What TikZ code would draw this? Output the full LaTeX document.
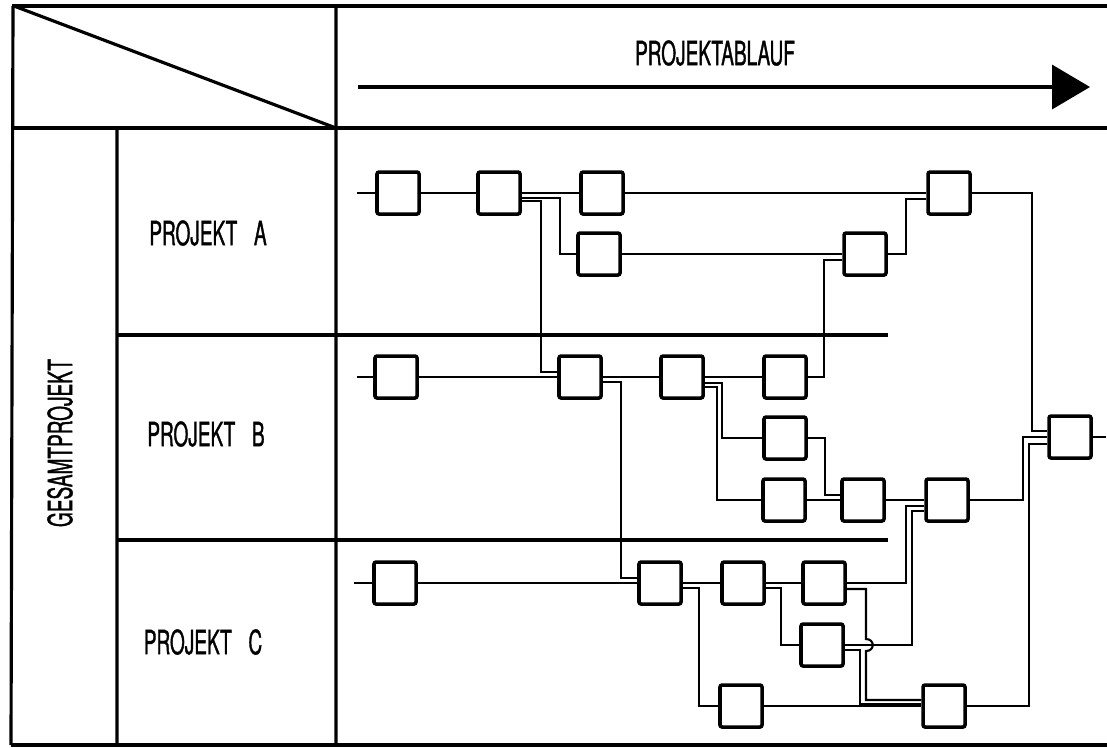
\documentclass[tikz,border=0pt]{standalone}
\usepackage{fontspec}
\newfontfamily\drawfont{TeX Gyre Heros}[FakeStretch=0.57,FakeBold=1]
\usetikzlibrary{arrows.meta}

\begin{document}
\begin{tikzpicture}[x=0.01cm,y=-0.01cm,
    act/.style={draw,line width=1pt,rounded corners=0.6pt,minimum size=0.42cm,inner sep=0pt},
    frame/.style={line width=0.9pt},
    sep/.style={line width=0.9pt},
    lnk/.style={line width=0.6pt},
    lab/.style={font=\drawfont\fontsize{9.5}{11}\selectfont,inner sep=0pt}]
  \useasboundingbox (0,0) rectangle (1107,747);
  % table frame
  \draw[frame] (12,6) -- (1107,6) (12,128) -- (1107,128) (11,745) -- (1107,745);
  \draw[frame] (13,6) -- (11,745) (117,128) -- (117,745) (336,6) -- (336,745);
  \draw[frame] (14,6) -- (336,128);
  \draw[sep] (117,335) -- (888,335) (117,540) -- (888,540);
  % header
  \node[lab] (head) at (715,53) {PROJEKTABLAUF};
  \draw[line width=1pt,-{Triangle[length=3.8mm,width=4.4mm]}] (358,87) coordinate (t0) -- (1090,87) coordinate (t1);
  \node[lab,rotate=90] (gp) at (60,443) {GESAMTPROJEKT};
  \node[lab] (pa) at (208,233) {PROJEKT\enspace A};
  \node[lab] (pb) at (206,434) {PROJEKT\enspace B};
  \node[lab] (pc) at (203,642) {PROJEKT\enspace C};
  % activities
  \node[act] (A1) at (398,193) {};
  \node[act] (A2) at (499,193) {};
  \node[act] (A3) at (602,193) {};
  \node[act] (A4) at (599,254) {};
  \node[act] (A5) at (865,254) {};
  \node[act] (A6) at (949,193) {};
  \node[act] (B1) at (396,377) {};
  \node[act] (B2) at (580,377) {};
  \node[act] (B3) at (682,377) {};
  \node[act] (B4) at (785,377) {};
  \node[act] (B5) at (785,438) {};
  \node[act] (B6) at (784,500) {};
  \node[act] (B7) at (863,500) {};
  \node[act] (B8) at (947,500) {};
  \node[act] (C1) at (395,583) {};
  \node[act] (C2) at (660,583) {};
  \node[act] (C3) at (743,583) {};
  \node[act] (C4) at (824,583) {};
  \node[act] (C5) at (822,645) {};
  \node[act] (C6) at (741,706) {};
  \node[act] (C7) at (944,706) {};
  \node[act] (F) at (1070,437) {};
  \coordinate (inA) at (357,193);
  \coordinate (inB) at (357,377);
  \coordinate (inC) at (354,583);
  \coordinate (out) at (1106,437);
  % projekt A
  \draw[lnk] (inA) -- (A1) -- (A2) -- (A3);
  \draw[lnk] (A2.east |- 0,198) -- (560,198) |- (A4.west);
  \draw[lnk] (A2.east |- 0,201) -- (541,201) |- (B2.west |- 0,372);
  \draw[lnk] (A3) -- (A6);
  \draw[lnk] (A4) -- (A5);
  \draw[lnk] (A5.east) -- (906,254) |- (A6.west |- 0,199);
  \draw[lnk] (A6.east) -- (1032,193) |- (F.west |- 0,431);
  \draw[lnk] (B4.east) -- (824,377) |- (A5.west |- 0,260);
  % projekt B
  \draw[lnk] (inB) -- (B1) -- (B2) -- (B3) -- (B4);
  \draw[lnk] (B2.east |- 0,382) -- (621,382) |- (C2.west |- 0,578);
  \draw[lnk] (B3.east |- 0,383) -- (722,383) |- (B5.west);
  \draw[lnk] (B3.east |- 0,387) -- (717,387) |- (B6.west);
  \draw[lnk] (B5.east) -- (825,438) |- (B7.west |- 0,495);
  \draw[lnk] (B6) -- (B7) -- (B8);
  \draw[lnk] (B8.east) -- (1023,500) |- (F.west);
  % projekt C
  \draw[lnk] (inC) -- (C1) -- (C2) -- (C3) -- (C4);
  \draw[lnk] (C2.east |- 0,588) -- (699,588) |- (C6.west);
  \draw[lnk] (C3.east |- 0,588) -- (781,588) |- (C5.west);
  \draw[lnk] (C4.east) -- (906,583) |- (B8.west |- 0,506);
  \draw[lnk] (C5.east) -- (912,645) |- (B8.west |- 0,511);
  \draw[lnk] (C4.east |- 0,589) -- (866,589) -- (866,639)
    .. controls (875,639) and (875,651) .. (866,651) -- (866,700) -- (C7.west |- 0,700);
  \draw[lnk] (C5.east |- 0,650) -- (860,650) |- (C7.west |- 0,704);
  \draw[lnk] (C6) -- (C7);
  \draw[lnk] (C7.east) -- (1029,706) |- (F.west |- 0,444);
  \draw[lnk] (F) -- (out);
\end{tikzpicture}
\end{document}
